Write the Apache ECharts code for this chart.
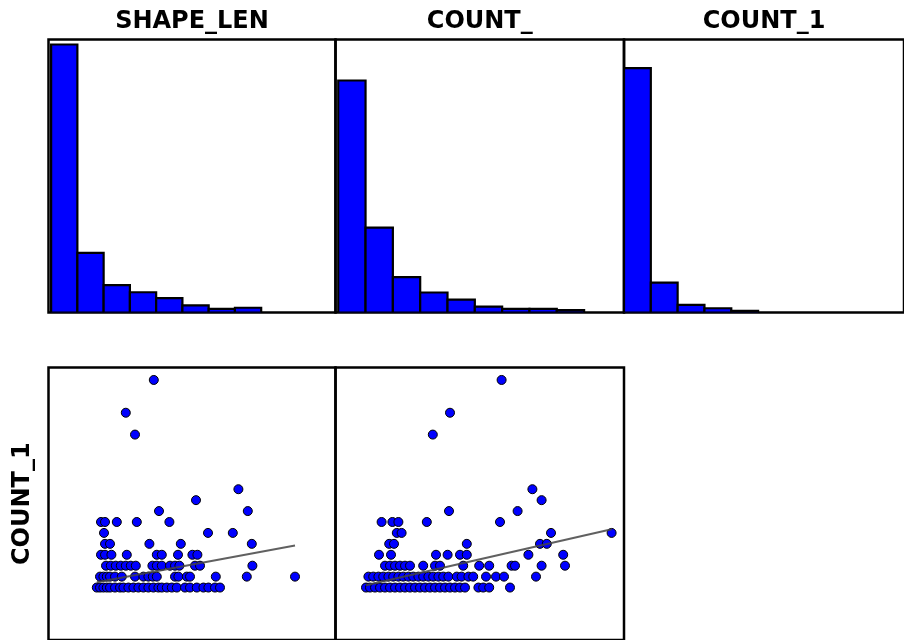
<!DOCTYPE html>
<html>
<head>
<meta charset="utf-8">
<script src="https://cdn.jsdelivr.net/npm/echarts@6/dist/echarts.min.js"></script>
<style>html,body{margin:0;padding:0;background:#fff;}#chart{width:904px;height:640px;}</style>
</head>
<body>
<div id="chart"></div>
<script>
// ---- Data ----
const variables = ['SHAPE_LEN', 'COUNT_', 'COUNT_1'];
const histEdges = [0, 1, 2, 3, 4, 5, 6, 7, 8, 9, 10];           // bin index edges
const shapeLenCounts = [225, 50, 23, 17, 12, 6, 3, 4, 0, 0];
const countCounts    = [197, 72, 30, 17, 11, 5, 3, 3, 2, 0];
const count1Counts   = [287, 35, 9, 5, 2, 0, 0, 0, 0, 0];

// COUNT_1 levels shared by both scatter panels
const count1Levels = [1, 2, 3, 4, 5, 6, 7, 8, 9, 10, 15, 17, 20];

// SHAPE_LEN values at each COUNT_1 level (index-aligned with count1Levels)
const shapeLenL1  = [0.34,0.5,0.67,0.84,1.0,1.25,1.5,1.67,1.92,2.17,2.42,2.67,2.92,3.17,3.42,3.59,3.84,4.09,4.34,4.75,5.0,5.34,5.67,5.92,6.25,6.5];
const shapeLenL2  = [0.5,0.67,0.84,1.0,1.25,1.59,2.25,2.67,2.92,3.14,3.34,4.25,4.42,4.84,5.0,6.29,7.84,10.25];
const shapeLenL3  = [0.8,1.04,1.29,1.54,1.79,2.04,2.29,3.12,3.34,3.59,4.0,4.25,4.47,5.25,5.5,8.12];
const shapeLenL4  = [0.55,0.75,1.07,1.84,3.34,3.59,4.4,5.12,5.37];
const shapeLenL5  = [0.75,1.0,2.97,4.54,8.09];
const shapeLenL6  = [0.7,5.9,7.14];
const shapeLenL7  = [0.55,0.75,1.34,2.34,3.97];
const shapeLenL8  = [3.45,7.89];
const shapeLenL9  = [5.3];
const shapeLenL10 = [7.42];
const shapeLenL15 = [2.25];
const shapeLenL17 = [1.79];
const shapeLenL20 = [3.19];

// COUNT_ values at each COUNT_1 level
const countL1  = [1.0,2.0,3.25,4.5,5.75,7.0,8.25,9.5,10.75,12.0,13.25,14.5,15.75,17.0,18.25,19.5,20.75,22.0,23.25,24.5,25.75,29.1,30.3,31.8,37.0];
const countL2  = [1.6,2.8,4.1,5.3,6.6,7.8,9.1,10.3,11.6,12.8,14.1,15.3,16.6,17.8,19.1,20.3,21.6,23.7,24.9,26.6,27.8,31.0,33.5,35.5,43.5];
const countL3  = [5.75,7.0,8.25,9.5,10.75,12.0,15.3,18.25,19.5,25.3,29.3,31.8,37.4,38.25,44.9,50.75];
const countL4  = [4.25,7.25,18.5,21.4,24.5,26.2,41.6,50.3];
const countL5  = [6.8,8.0,26.2,44.5,46.2];
const countL6  = [8.7,9.9,47.25,62.4];
const countL7  = [4.9,7.6,9.1,16.2,34.5];
const countL8  = [21.75,38.9];
const countL9  = [44.9];
const countL10 = [42.6];
const countL15 = [17.7];
const countL17 = [22.0];
const countL20 = [34.9];

// fitted trend lines (end points)
const shapeLenFitX = [0.34, 10.25];
const shapeLenFitY = [1.49, 4.85];
const countFitX = [1.0, 62.4];
const countFitY = [1.22, 6.34];

// ---- Build ----
const shapeLenRows = [shapeLenL1,shapeLenL2,shapeLenL3,shapeLenL4,shapeLenL5,shapeLenL6,shapeLenL7,shapeLenL8,shapeLenL9,shapeLenL10,shapeLenL15,shapeLenL17,shapeLenL20];
const countRows = [countL1,countL2,countL3,countL4,countL5,countL6,countL7,countL8,countL9,countL10,countL15,countL17,countL20];

function pairs(rows) {
  const out = [];
  rows.forEach((row, i) => row.forEach(x => out.push([x, count1Levels[i]])));
  return out;
}
function histData(counts) {
  return counts.map((c, i) => [histEdges[i], histEdges[i + 1], c]);
}
function renderHist(params, api) {
  if (api.value(2) <= 0) return null;
  const p0 = api.coord([api.value(0), api.value(2)]);
  const p1 = api.coord([api.value(1), 0]);
  return {
    type: 'rect',
    shape: { x: p0[0], y: p0[1], width: p1[0] - p0[0], height: p1[1] - p0[1] },
    style: { fill: '#0000ff', stroke: '#000000', lineWidth: 2.2 }
  };
}

const FONT = 'DejaVu Sans';
const nameStyle = { fontFamily: FONT, fontWeight: 'bold', fontSize: 24, color: '#000' };
const gridBase = { show: true, borderColor: '#000', borderWidth: 2.5, backgroundColor: 'transparent' };
const hidden = { axisLine: { show: false }, axisTick: { show: false }, axisLabel: { show: false }, splitLine: { show: false } };

const grids = [
  Object.assign({ left: 48.5, top: 39.5, width: 287, height: 273 }, gridBase),
  Object.assign({ left: 335.5, top: 39.5, width: 288.5, height: 273 }, gridBase),
  Object.assign({ left: 624, top: 39.5, width: 287, height: 273 }, gridBase),
  Object.assign({ left: 48.5, top: 367.5, width: 287, height: 273 }, gridBase),
  Object.assign({ left: 335.5, top: 367.5, width: 288.5, height: 273 }, gridBase)
];

const histXRange = [[-0.1, 10.83], [-0.1, 10.46], [0, 10.44]];
const histYMax = [229.2, 231.8, 320.6];

const xAxes = [], yAxes = [];
for (let i = 0; i < 3; i++) {
  xAxes.push(Object.assign({
    type: 'value', gridIndex: i, position: 'top', min: histXRange[i][0], max: histXRange[i][1],
    name: variables[i], nameLocation: 'middle', nameGap: 6, nameTextStyle: nameStyle
  }, hidden));
  yAxes.push(Object.assign({ type: 'value', gridIndex: i, min: 0, max: histYMax[i] }, hidden));
}
xAxes.push(Object.assign({ type: 'value', gridIndex: 3, min: -2.075, max: 12.275 }, hidden));
xAxes.push(Object.assign({ type: 'value', gridIndex: 4, min: -6.625, max: 65.5 }, hidden));
yAxes.push(Object.assign({ type: 'value', gridIndex: 3, min: -3.8, max: 21.14,
  name: 'COUNT_1', nameLocation: 'middle', nameGap: 14, nameRotate: 90, nameTextStyle: nameStyle }, hidden));
yAxes.push(Object.assign({ type: 'value', gridIndex: 4, min: -3.8, max: 21.14 }, hidden));

const pointStyle = { color: '#0000ff', borderColor: '#000', borderWidth: 1, opacity: 1 };
const lineStyle = { color: '#444444', width: 2, opacity: 0.85 };

const series = [
  { type: 'custom', xAxisIndex: 0, yAxisIndex: 0, data: histData(shapeLenCounts), renderItem: renderHist, encode: { x: [0, 1], y: 2 }, clip: true },
  { type: 'custom', xAxisIndex: 1, yAxisIndex: 1, data: histData(countCounts), renderItem: renderHist, encode: { x: [0, 1], y: 2 }, clip: true },
  { type: 'custom', xAxisIndex: 2, yAxisIndex: 2, data: histData(count1Counts), renderItem: renderHist, encode: { x: [0, 1], y: 2 }, clip: true },
  { type: 'scatter', xAxisIndex: 3, yAxisIndex: 3, data: pairs(shapeLenRows), symbolSize: 9, itemStyle: pointStyle, z: 2 },
  { type: 'scatter', xAxisIndex: 4, yAxisIndex: 4, data: pairs(countRows), symbolSize: 9, itemStyle: pointStyle, z: 2 },
  { type: 'line', xAxisIndex: 3, yAxisIndex: 3, data: shapeLenFitX.map((x, i) => [x, shapeLenFitY[i]]), symbol: 'none', lineStyle: lineStyle, z: 3 },
  { type: 'line', xAxisIndex: 4, yAxisIndex: 4, data: countFitX.map((x, i) => [x, countFitY[i]]), symbol: 'none', lineStyle: lineStyle, z: 3 }
];

const chart = echarts.init(document.getElementById('chart'), null, { renderer: 'canvas' });
chart.setOption({ animation: false, backgroundColor: '#ffffff', grid: grids, xAxis: xAxes, yAxis: yAxes, series: series });
</script>
</body>
</html>
